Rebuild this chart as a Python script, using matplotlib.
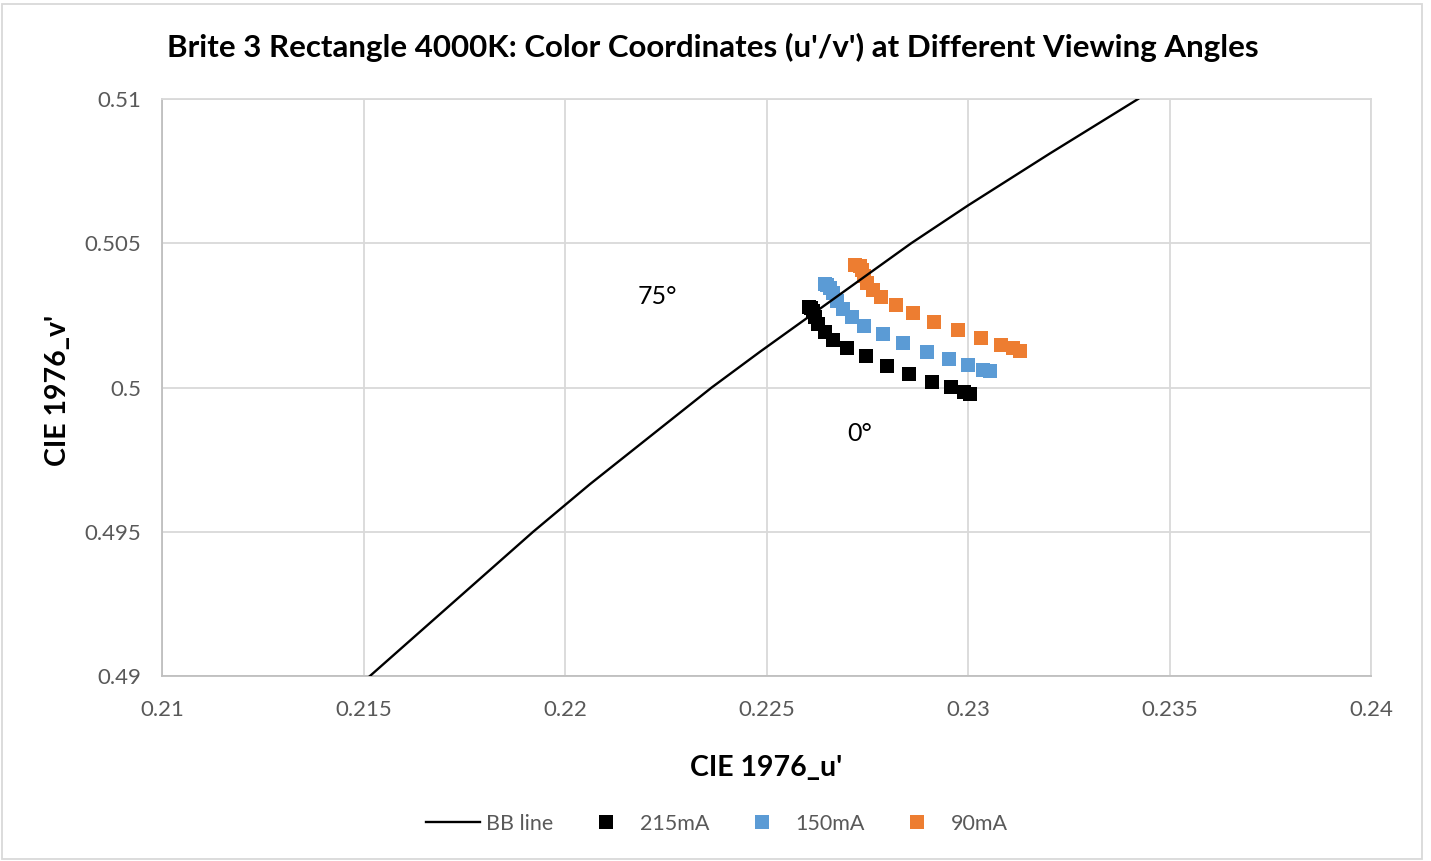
import matplotlib
matplotlib.use("Agg")
import matplotlib.pyplot as plt
from matplotlib.patches import Rectangle
from matplotlib.lines import Line2D

plt.rcParams['font.family'] = ['Lato', 'DejaVu Sans']

# Black body (Planckian) line
bb_u = [0.21516, 0.21921, 0.22062, 0.22364, 0.22484, 0.22859, 0.2300, 0.23203, 0.23422]
bb_v = [0.4900, 0.4950, 0.49665, 0.5000, 0.50124, 0.5050, 0.50631, 0.50811, 0.5100]

# 215mA (0° .. 75°)
u_215 = [0.23005, 0.22990, 0.22958, 0.22911, 0.22854, 0.22799, 0.22747, 0.22700,
         0.22665, 0.22645, 0.22628, 0.22620, 0.22615, 0.22610, 0.22605]
v_215 = [0.49977, 0.49984, 0.50002, 0.50019, 0.50047, 0.50075, 0.50109, 0.50137,
         0.50165, 0.50192, 0.50220, 0.50244, 0.50265, 0.50276, 0.50279]

# 150mA
u_150 = [0.23055, 0.23037, 0.23000, 0.22953, 0.22898, 0.22839, 0.22789, 0.22742,
         0.22712, 0.22690, 0.22675, 0.22665, 0.22658, 0.22650, 0.22645]
v_150 = [0.50057, 0.50061, 0.50078, 0.50099, 0.50123, 0.50154, 0.50185, 0.50213,
         0.50244, 0.50272, 0.50300, 0.50328, 0.50345, 0.50355, 0.50359]

# 90mA
u_90 = [0.23129, 0.23112, 0.23082, 0.23032, 0.22975, 0.22916, 0.22864, 0.22821,
        0.22784, 0.22764, 0.22749, 0.22742, 0.22737, 0.22732, 0.22720]
v_90 = [0.50127, 0.50137, 0.50147, 0.50172, 0.50199, 0.50227, 0.50258, 0.50286,
        0.50314, 0.50338, 0.50362, 0.50386, 0.50407, 0.50421, 0.50425]

x_ticks = [0.21, 0.215, 0.22, 0.225, 0.23, 0.235, 0.24]
x_tick_labels = ["0.21", "0.215", "0.22", "0.225", "0.23", "0.235", "0.24"]
y_ticks = [0.49, 0.495, 0.5, 0.505, 0.51]
y_tick_labels = ["0.49", "0.495", "0.5", "0.505", "0.51"]

annotations = [("75°", 0.22228, 0.50314), ("0°", 0.22730, 0.49842)]

fig = plt.figure(figsize=(14.31, 8.61), dpi=100)
ax = fig.add_axes([162/1431, 1-676/861, (1371-162)/1431, (676-99)/861])

grid_c = '#d9d9d9'
ax.grid(True, color=grid_c, linewidth=1.3, zorder=0)
ax.set_axisbelow(True)
for s in ax.spines.values():
    s.set_color(grid_c)
    s.set_linewidth(1.3)
ax.spines['left'].set_color('#bfbfbf')
ax.spines['bottom'].set_color('#bfbfbf')

ms = 10.5
ax.plot(u_215, v_215, 's', color='#000000', markersize=ms, markeredgewidth=0, zorder=3)
ax.plot(u_150, v_150, 's', color='#5B9BD5', markersize=ms, markeredgewidth=0, zorder=3)
ax.plot(u_90, v_90, 's', color='#ED7D31', markersize=ms, markeredgewidth=0, zorder=3)
ax.plot(bb_u, bb_v, '-', color='black', linewidth=1.7, zorder=4, solid_joinstyle='round')

ax.set_xlim(0.21, 0.24)
ax.set_ylim(0.49, 0.51)
ax.set_xticks(x_ticks)
ax.set_xticklabels(x_tick_labels)
ax.set_yticks(y_ticks)
ax.set_yticklabels(y_tick_labels)
ax.tick_params(axis='both', length=0, labelsize=16, colors='#595959')
ax.tick_params(axis='x', pad=17)
ax.tick_params(axis='y', pad=15)

for txt, xu, yv in annotations:
    ax.text(xu, yv, txt, fontsize=18, color='black', ha='center', va='center')

ax.set_xlabel("CIE 1976_u'", fontsize=20.5, fontweight='bold', va='center', ha='center')
ax.set_ylabel("CIE 1976_v'", fontsize=20.5, fontweight='bold', va='center', ha='center')
ax.xaxis.set_label_coords((766.5-162)/1209, (676-768)/577)
ax.yaxis.set_label_coords((58-162)/1209, (676-390)/577)

fig.text(713/1431, 1-47/861, "Brite 3 Rectangle 4000K: Color Coordinates (u'/v') at Different Viewing Angles",
         fontsize=22.5, fontweight='bold', ha='center', va='center')

handles = [
    Line2D([], [], color='black', linewidth=1.7),
    Line2D([], [], marker='s', linestyle='none', color='#000000', markersize=ms, markeredgewidth=0),
    Line2D([], [], marker='s', linestyle='none', color='#5B9BD5', markersize=ms, markeredgewidth=0),
    Line2D([], [], marker='s', linestyle='none', color='#ED7D31', markersize=ms, markeredgewidth=0),
]
labels = ["BB line", "215mA", "150mA", "90mA"]
leg = fig.legend(handles, labels, loc='center', bbox_to_anchor=(717/1431, 1-824/861), ncol=4,
                 frameon=False, fontsize=15.5, handlelength=2.5, columnspacing=1.2, handletextpad=0.3)
for t in leg.get_texts():
    t.set_color('#595959')

fig.patches.append(Rectangle((2/1431, 2/861), 1420/1431, 855/861, transform=fig.transFigure,
                             fill=False, edgecolor='#d9d9d9', linewidth=1.3))

fig.savefig("out.png", dpi=100)
